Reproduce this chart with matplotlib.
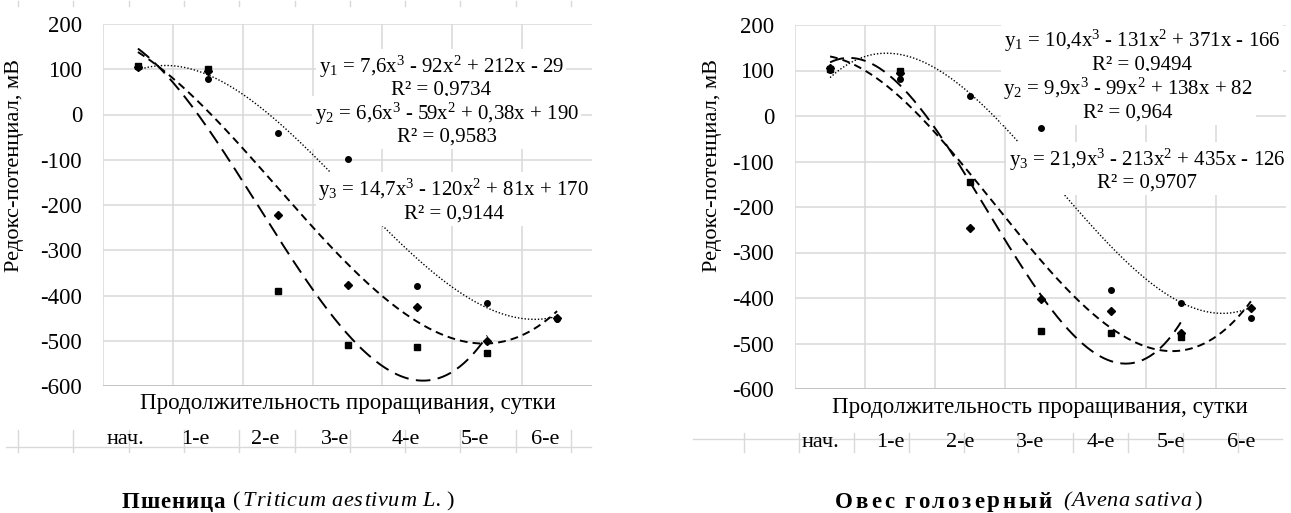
import numpy as np
import matplotlib
matplotlib.use("Agg")
import matplotlib.pyplot as plt
from matplotlib.transforms import ScaledTranslation

plt.rcParams["font.family"] = "serif"
plt.rcParams["font.serif"] = ["Liberation Serif"]
plt.rcParams["axes.unicode_minus"] = False
plt.rcParams["mathtext.fontset"] = "custom"
plt.rcParams["mathtext.rm"] = "Liberation Serif"
plt.rcParams["mathtext.it"] = "Liberation Serif:italic"
plt.rcParams["mathtext.bf"] = "Liberation Serif:bold"

# ---- data -------------------------------------------------------------
days = ["нач.", "1-е", "2-е", "3-е", "4-е", "5-е", "6-е"]

wheat_circles = [104, 78, -40, -98, -378, -416, -452]
wheat_diamonds = [105, 96, -222, -377, -425, -500, -450]
wheat_squares = [108, 101, -391, -509, -514, -527]
wheat_coef = [(7.6, -92, 212, -29), (6.6, -59, 0.38, 190), (14.7, -120, 81, 170)]
wheat_r2 = [0.9734, 0.9583, 0.9144]

oat_circles = [101, 81, 44, -27, -382, -410, -443]
oat_diamonds = [106, 95, -247, -403, -429, -476, -423]
oat_squares = [104, 99, -144, -472, -478, -486]
oat_coef = [(10.4, -131, 371, -166), (9.9, -99, 138, 82), (21.9, -213, 435, -126)]
oat_r2 = [0.9494, 0.964, 0.9707]

y_ticks = [-600, -500, -400, -300, -200, -100, 0, 100, 200]

# ---- figure -----------------------------------------------------------
W, H = 1291, 513
fig = plt.figure(figsize=(W / 100, H / 100), dpi=100)
fig.patch.set_facecolor("white")

# pixel-space layer for titles, captions and the category strip
deco = fig.add_axes([0, 0, 1, 1], zorder=-1)
deco.set_xlim(0, W)
deco.set_ylim(H, 0)
deco.axis("off")

GRID = "#d9d9d9"
SERIF = "Liberation Serif"


def num(v):
    return f"{v:g}".replace(".", ",")


def equation(i, coef):
    a, b, c, d = coef
    s = f"y$_{i}$ = {num(a)}x$^3$"
    for val, suffix in ((b, "x$^2$"), (c, "x"), (d, "")):
        sign = "-" if val < 0 else "+"
        s += f" {sign} {num(abs(val))}{suffix}"
    return s


def rect_px(x0, y0, x1, y1):
    return [x0 / W, 1 - y1 / H, (x1 - x0) / W, (y1 - y0) / H]


def panel(rect, circles, diamonds, squares, coefs, r2s, label_xy, shift_px):
    ax = fig.add_axes(rect)
    ax.set_facecolor("none")
    ax.set_xlim(0.5, 7.5)
    ax.set_ylim(-600, 200)
    ax.set_yticks(y_ticks)
    ax.set_xticks(np.arange(1, 8))
    ax.set_xticklabels(days, fontfamily=SERIF)
    ax.set_yticklabels([str(v) for v in y_ticks], fontfamily=SERIF)
    ax.set_xticks(np.arange(0.5, 7.0, 1.0), minor=True)
    ax.grid(axis="y", which="major", color=GRID, lw=1.1, zorder=0)
    ax.grid(axis="x", which="minor", color=GRID, lw=1.1, zorder=0)
    ax.set_axisbelow(True)
    ax.tick_params(which="both", length=0)
    ax.tick_params(axis="y", pad=15, labelsize=16.4)
    ax.tick_params(axis="x", pad=31.5, labelsize=16)
    for s in ax.spines.values():
        s.set_visible(False)
    ax.axhline(-600, color="#bfbfbf", lw=1.2, zorder=1)
    off = ScaledTranslation(shift_px / 100, 0, fig.dpi_scale_trans)
    for lab in ax.get_xticklabels():
        lab.set_transform(lab.get_transform() + off)

    series = [(circles, "o", 4.0), (diamonds, "D", 3.6), (squares, "s", 4.6)]
    styles = [
        dict(lw=1.0, ls=(0, (1.0, 1.4))),
        dict(lw=1.4, ls=(0, (4.0, 2.6))),
        dict(lw=1.4, ls=(0, (7.5, 3.8))),
    ]
    for (vals, mk, ms), coef, st in zip(series, coefs, styles):
        x = np.arange(1, len(vals) + 1)
        ax.plot(x, vals, ls="none", marker=mk, ms=ms, color="black", zorder=3)
        xs = np.linspace(1, len(vals), 300)
        ax.plot(xs, np.polyval(coef, xs), color="black", zorder=2, **st)

    for i, (coef, r2, (lx, ly)) in enumerate(zip(coefs, r2s, label_xy), start=1):
        ax.text(lx, ly, equation(i, coef) + "\n" + f"R² = {num(r2)}",
                ha="center", va="center", multialignment="center",
                fontsize=15, fontfamily=SERIF, linespacing=1.08, zorder=5,
                bbox=dict(boxstyle="square,pad=0.12", fc="white", ec="none"))
    return ax


ax1 = panel(rect_px(103, 24, 592, 386), wheat_circles, wheat_diamonds, wheat_squares,
            wheat_coef, wheat_r2, [(5.34, 84), (5.42, -20), (5.52, -189)], -12)
ax2 = panel(rect_px(795, 25, 1286, 389), oat_circles, oat_diamonds, oat_squares,
            oat_coef, oat_r2, [(5.45, 143), (5.25, 37), (5.52, -118)], -10)

# axis titles
for cx, cy in ((348, 404), (1040, 407)):
    deco.text(cx, cy, "Продолжительность проращивания, сутки", ha="center",
              va="center", fontsize=16.6, fontfamily=SERIF)
for cx in (15, 713):
    deco.text(cx, 165, "Редокс-потенциал, мВ", ha="center", va="center",
              rotation=90, fontsize=16.1, fontfamily=SERIF)

# category strip borders
def strip(x0, x1, y, ticks, t0, t1):
    deco.plot([x0, x1], [y, y], color=GRID, lw=1.0)
    for t in ticks:
        deco.plot([t, t], [t0, t1], color=GRID, lw=1.0)

strip(6, 591, 447, np.linspace(18, 571, 11), 430, 452)
strip(693, 1282, 439, np.linspace(744, 1238, 10), 433, 452)
for t in np.linspace(18, 571, 11):
    deco.plot([t, t], [1, 6], color=GRID, lw=1.0)

# captions: letter-spaced runs fitted between given pixel bounds
fig.canvas.draw()
renderer = fig.canvas.get_renderer()


def spaced(x0, x1, y, text, size=16, space_w=5.0, **kw):
    items, total = [], 0.0
    for ch in text:
        if ch == " ":
            items.append((None, space_w))
            total += space_w
            continue
        t = deco.text(0, y, ch, ha="left", va="center", fontfamily=SERIF,
                      fontsize=size, **kw)
        w = t.get_window_extent(renderer).width
        items.append((t, w))
        total += w
    gap = (x1 - x0 - total) / max(len(items) - 1, 1)
    x = x0
    for t, w in items:
        if t is not None:
            t.set_x(x)
        x += w + gap


def single(x, y, text, **kw):
    deco.text(x, y, text, ha="left", va="center", fontfamily=SERIF,
              fontsize=16, **kw)


spaced(122, 225, 502, "Пшеница", size=16.5, fontweight="bold")
single(233, 502, "(")
spaced(243, 441, 502, "Triticum aestivum L.", space_w=4.0, style="italic")
single(446, 502, ")")

spaced(835, 1052, 502, "Овес голозерный", size=16.5, space_w=5.0,
       fontweight="bold")
spaced(1063, 1191, 502, "(Avena sativa", space_w=4.0, style="italic")
single(1194, 502, ")")

fig.savefig("out.png", dpi=100, facecolor="white")
